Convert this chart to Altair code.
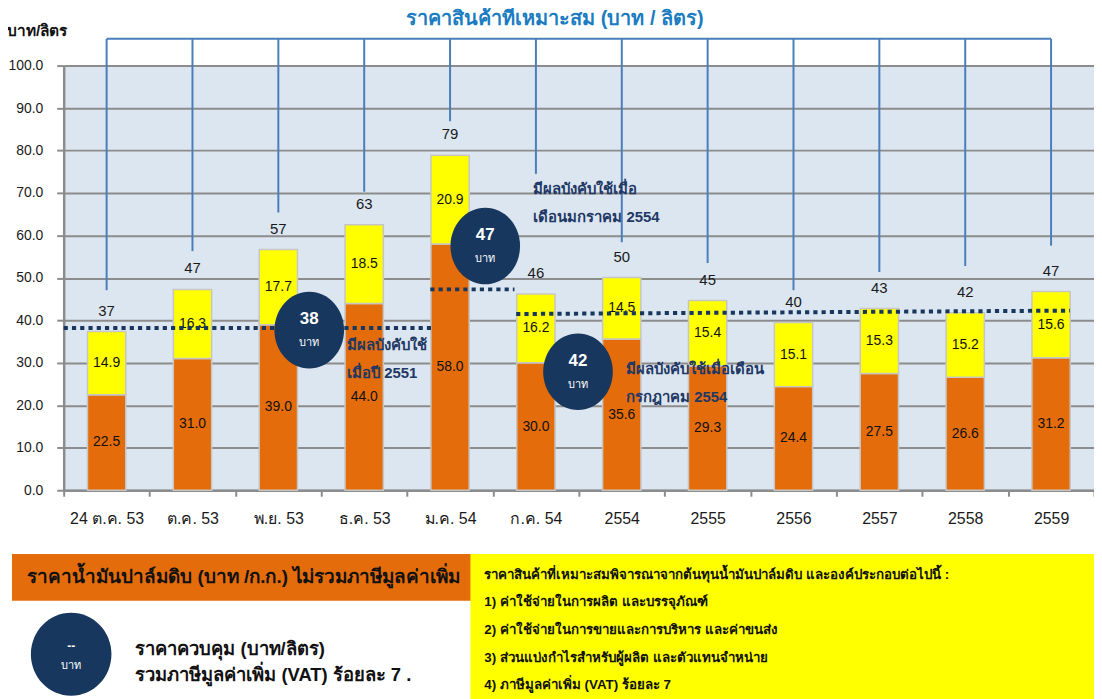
import altair as alt
import pandas as pd

# ---------------- data ----------------
categories = ["24 ต.ค. 53", "ต.ค. 53", "พ.ย. 53", "ธ.ค. 53", "ม.ค. 54", "ก.ค. 54",
              "2554", "2555", "2556", "2557", "2558", "2559"]
crude_palm_oil = [22.5, 31.0, 39.0, 44.0, 58.0, 30.0, 35.6, 29.3, 24.4, 27.5, 26.6, 31.2]
other_costs = [14.9, 16.3, 17.7, 18.5, 20.9, 16.2, 14.5, 15.4, 15.1, 15.3, 15.2, 15.6]
total_labels = [37, 47, 57, 63, 79, 46, 50, 45, 40, 43, 42, 47]
bracket_ends = [47.1, 56.3, 65.4, 70.3, 86.9, 74.5, 58.4, 53.5, 47.1, 51.4, 52.8, 57.6]
bracket_top = 106.3

control_prices = ["38", "47", "42"]
control_from = [0.0, 4.27, 5.27]
control_to = [4.29, 5.25, 11.72]
control_level_from = [38.2, 47.3, 41.5]
control_level_to = [38.2, 47.3, 42.3]
badge_x = [2.86, 4.91, 5.99]
badge_y = [37.7, 57.5, 27.9]

note_first = ["มีผลบังคับใช้", "มีผลบังคับใช้เมื่อ", "มีผลบังคับใช้เมื่อเดือน"]
note_second = ["เมื่อปี 2551", "เดือนมกราคม 2554", "กรกฎาคม 2554"]
note_x = [3.30, 5.47, 6.55]
note_y = [34.2, 71.0, 28.6]

title_text = "ราคาสินค้าที่เหมาะสม (บาท / ลิตร)"
unit_text = "บาท/ลิตร"
orange_legend = "ราคาน้ำมันปาล์มดิบ (บาท /ก.ก.) ไม่รวมภาษีมูลค่าเพิ่ม"
badge_legend = ["ราคาควบคุม (บาท/ลิตร)", "รวมภาษีมูลค่าเพิ่ม (VAT) ร้อยละ 7 ."]
yellow_legend = [
    "ราคาสินค้าที่เหมาะสมพิจารณาจากต้นทุนน้ำมันปาล์มดิบ และองค์ประกอบต่อไปนี้ :",
    "1) ค่าใช้จ่ายในการผลิต และบรรจุภัณฑ์",
    "2) ค่าใช้จ่ายในการขายและการบริหาร และค่าขนส่ง",
    "3) ส่วนแบ่งกำไรสำหรับผู้ผลิต และตัวแทนจำหน่าย",
    "4) ภาษีมูลค่าเพิ่ม (VAT) ร้อยละ 7",
]

# ---------------- styles ----------------
FONT = "Liberation Sans"
W, H = 1036, 427
N = len(categories)
HALF = 0.223
ORANGE = "#e46c0a"
YELLOW = "#ffff00"
NAVY = "#17375e"
NOTE = "#1f3864"
BRACKET = "#4a7ebb"
GRID = "#8c8c8c"
ELLIPSE = "M -1 0 A 1 1.1 0 1 1 1 0 A 1 1.1 0 1 1 -1 0 Z"
ELLIPSE_L = "M -1 0 A 1 1.03 0 1 1 1 0 A 1 1.03 0 1 1 -1 0 Z"

rows = []
for i, c in enumerate(categories):
    lo = crude_palm_oil[i]
    hi = lo + other_costs[i]
    rows.append(dict(cat=c, part="oil", xc=i + 0.5, x0=i + 0.5 - HALF, x1=i + 0.5 + HALF,
                     y0=0.0, y1=lo, mid=lo / 2, label=f"{lo:.1f}"))
    rows.append(dict(cat=c, part="other", xc=i + 0.5, x0=i + 0.5 - HALF, x1=i + 0.5 + HALF,
                     y0=lo, y1=hi, mid=(lo + hi) / 2, label=f"{other_costs[i]:.1f}"))
bars_df = pd.DataFrame(rows)

tot_df = pd.DataFrame({
    "xc": [i + 0.5 for i in range(N)],
    "top": [a + b for a, b in zip(crude_palm_oil, other_costs)],
    "label": [str(t) for t in total_labels],
    "start": [bracket_top] * N,
    "end": bracket_ends,
})
bracket_h = pd.DataFrame({"a": [0.5], "b": [N - 0.5], "y": [bracket_top]})
ctrl_df = pd.DataFrame({"a": control_from, "b": control_to,
                        "ya": control_level_from, "yb": control_level_to})
badge_df = pd.DataFrame({"x": badge_x, "y": badge_y, "price": control_prices})
note_df = pd.DataFrame({"x": note_x, "y": note_y, "l1": note_first, "l2": note_second})
one = pd.DataFrame({"k": [0]})

xs = alt.Scale(domain=[0, N], nice=False, zero=False)
ys = alt.Scale(domain=[0, 100], nice=False)

label_expr = "[" + ",".join("'" + c + "'" for c in categories) + "][datum.value] || ''"
x_axis = alt.Axis(values=list(range(N + 1)), labelExpr=label_expr, labelOffset=W / N / 2,
                  labelFlush=False, labelOverlap=False, labelAlign="center", grid=False,
                  tickSize=6, tickWidth=2, tickColor=GRID, domainColor=GRID, domainWidth=2.5,
                  labelFontSize=16, labelColor="#1a1a1a", labelPadding=14, labelFont=FONT,
                  title=None)
y_axis = alt.Axis(values=list(range(0, 101, 10)), format=".1f", grid=True, gridColor=GRID,
                  gridWidth=2, tickSize=7, tickWidth=2, tickColor=GRID, domainColor=GRID,
                  domainWidth=2.5, labelFontSize=14, labelColor="#1a1a1a", labelPadding=14,
                  labelFont=FONT, title=None)


def X(f):
    return alt.X(f, scale=xs, axis=x_axis)


def Y(f):
    return alt.Y(f, scale=ys, axis=y_axis)


bars = alt.Chart(bars_df).mark_rect(stroke="#c6c6c6", strokeWidth=1.5).encode(
    x=X("x0:Q"), x2="x1:Q", y=Y("y0:Q"), y2="y1:Q",
    color=alt.Color("part:N", scale=alt.Scale(domain=["oil", "other"], range=[ORANGE, YELLOW]),
                    legend=None),
)
seg_text = alt.Chart(bars_df).mark_text(font=FONT, fontSize=14, color="#111111").encode(
    x=X("xc:Q"), y=Y("mid:Q"), text="label:N")
tot_text = alt.Chart(tot_df).mark_text(font=FONT, fontSize=15, color="#1a1a1a", dy=-21).encode(
    x=X("xc:Q"), y=Y("top:Q"), text="label:N")
brackets_v = alt.Chart(tot_df).mark_rule(color=BRACKET, strokeWidth=2).encode(
    x=X("xc:Q"), y=Y("start:Q"), y2="end:Q")
brackets_h = alt.Chart(bracket_h).mark_rule(color=BRACKET, strokeWidth=2).encode(
    x=X("a:Q"), x2="b:Q", y=Y("y:Q"))
ctrl_lines = alt.Chart(ctrl_df).mark_rule(color=NAVY, strokeWidth=4, strokeDash=[4.2, 4.1]).encode(
    x=X("a:Q"), x2="b:Q", y=Y("ya:Q"), y2="yb:Q")
badges = alt.Chart(badge_df).mark_point(shape=ELLIPSE, size=4900, filled=True, color=NAVY,
                                        opacity=1, strokeWidth=0).encode(x=X("x:Q"), y=Y("y:Q"))
badge_num = alt.Chart(badge_df).mark_text(font=FONT, fontSize=17, fontWeight="bold",
                                          color="white", dy=-11).encode(
    x=X("x:Q"), y=Y("y:Q"), text="price:N")
badge_unit = alt.Chart(badge_df).mark_text(font=FONT, fontSize=11, color="white", dy=13).encode(
    x=X("x:Q"), y=Y("y:Q"), text=alt.value("บาท"))
note1 = alt.Chart(note_df).mark_text(font=FONT, fontSize=15, fontWeight="bold", color=NOTE,
                                     align="left").encode(x=X("x:Q"), y=Y("y:Q"), text="l1:N")
note2 = alt.Chart(note_df).mark_text(font=FONT, fontSize=15, fontWeight="bold", color=NOTE,
                                     align="left", dy=28).encode(x=X("x:Q"), y=Y("y:Q"), text="l2:N")


def ptext(text, x, y, **kw):
    return alt.Chart(one).mark_text(text=text, font=FONT, **kw).encode(x=alt.value(x), y=alt.value(y))


def prect(x, x2, y, y2, color):
    return alt.Chart(one).mark_rect(color=color).encode(
        x=alt.value(x), x2=alt.value(x2), y=alt.value(y), y2=alt.value(y2))


title = ptext(title_text, 494, -47, fontSize=20, fontWeight="bold", color="#1a7cc1")
unit = ptext(unit_text, -57, -35, fontSize=15.5, fontWeight="bold", color="#111111", align="left")

orange_box = prect(-52, 417, 491, 538, ORANGE)
orange_txt = ptext(orange_legend, 181, 514, fontSize=19, fontWeight="bold", color="#111111")
legend_badge = alt.Chart(one).mark_point(shape=ELLIPSE_L, size=6561, filled=True, color=NAVY,
                                         opacity=1, strokeWidth=0).encode(
    x=alt.value(7.5), y=alt.value(592))
legend_dash = ptext("--", 7.5, 584, fontSize=12, fontWeight="bold", color="white")
legend_unit = ptext("บาท", 7.5, 604, fontSize=11, color="white")
badge_txt1 = ptext(badge_legend[0], 72, 587, fontSize=18.5, fontWeight="bold", color="#111111", align="left")
badge_txt2 = ptext(badge_legend[1], 72, 613, fontSize=18.5, fontWeight="bold", color="#111111", align="left")

yellow_box = prect(409, 1036, 491, 640, YELLOW)
yellow_txt = [ptext(t, 423, y, fontSize=13.4, fontWeight="bold", color="#111111", align="left")
              for t, y in zip(yellow_legend, [512, 539, 568, 596, 623])]

chart = alt.layer(
    bars, seg_text, tot_text, brackets_v, brackets_h, ctrl_lines, badges, badge_num, badge_unit,
    note1, note2, title, unit, orange_box, orange_txt, legend_badge, legend_dash, legend_unit,
    badge_txt1, badge_txt2, yellow_box, *yellow_txt,
).properties(
    width=W, height=H,
    padding={"left": 56, "top": 56, "right": 0, "bottom": 208},
    autosize=alt.AutoSizeParams(type="none"),
).configure_view(fill="#dce6f1", stroke="transparent")

chart.save("out.html", embed_options={"renderer": "svg", "actions": False})
